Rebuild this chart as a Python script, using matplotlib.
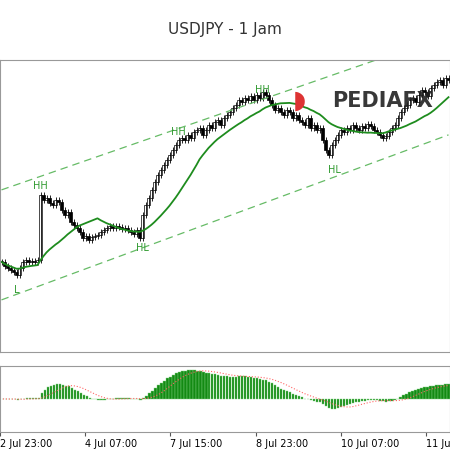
import numpy as np
import pandas as pd
import matplotlib
matplotlib.use("Agg")
import matplotlib.pyplot as plt

# close prices per hourly bar
closes = [158.88, 158.84, 158.82, 158.80, 158.78, 158.75, 158.82,
          158.88, 158.90, 158.88, 158.89, 158.88, 158.90,
          159.55,
          159.50, 159.52, 159.47, 159.45, 159.50, 159.48,
          159.40, 159.35, 159.38, 159.28, 159.25, 159.22, 159.18,
          159.12, 159.14, 159.10, 159.13, 159.14, 159.15, 159.18,
          159.20, 159.22, 159.24, 159.22, 159.24, 159.23, 159.21, 159.22, 159.20, 159.18,
          159.16, 159.20, 159.12,
          159.35, 159.45, 159.52, 159.60, 159.68, 159.75, 159.80,
          159.85, 159.90, 159.95, 160.00, 160.05, 160.10, 160.12,
          160.10, 160.15, 160.12, 160.18, 160.20, 160.22, 160.15, 160.20, 160.25, 160.22,
          160.28, 160.30, 160.25, 160.32, 160.35, 160.38,
          160.42, 160.45, 160.50, 160.48, 160.52, 160.50, 160.54, 160.50, 160.55, 160.52,
          160.58, 160.55, 160.50, 160.45, 160.40, 160.42, 160.38, 160.35, 160.40, 160.38,
          160.32, 160.35, 160.30, 160.28, 160.25, 160.32, 160.22, 160.25, 160.20, 160.22,
          160.10, 160.00, 159.95, 160.05,
          160.10, 160.15, 160.20, 160.18, 160.22, 160.20, 160.25, 160.22, 160.20, 160.24,
          160.22, 160.26, 160.24,
          160.20, 160.18, 160.15, 160.12, 160.14, 160.18,
          160.22, 160.25, 160.32, 160.38, 160.42, 160.45, 160.50, 160.52, 160.48, 160.55,
          160.60, 160.58, 160.54, 160.62, 160.65, 160.68, 160.70, 160.65, 160.72, 160.70]

tick_bars = [-1, 27.5, 56, 84.5, 113, 141.5]
tick_labels = ["2 Jul 23:00", "4 Jul 07:00", "7 Jul 15:00", "8 Jul 23:00", "10 Jul 07:00", "11 Jul"]

marks = ["L", "HH", "HL", "HH", "HH", "HL"]
mark_bars = [5, 13, 47, 59, 87, 111]
mark_prices = [158.60, 159.64, 159.02, 160.18, 160.60, 159.80]

upper_chan = [159.60, 161.15]   # price at first and last bar
lower_chan = [158.50, 160.15]

green = "#2f9a2f"
c = pd.Series(closes)
opens = c.shift(1).fillna(c.iloc[0])
ma = c.rolling(20, min_periods=1).mean()
macd = c.ewm(span=12).mean() - c.ewm(span=26).mean()
signal = macd.rolling(9, min_periods=1).mean()

fig = plt.figure(figsize=(4.5, 4.5), dpi=100)
fig.text(0.5, 0.935, "USDJPY - 1 Jam", ha="center", va="center", fontsize=11, color="#333333")

ax = fig.add_axes([0, 0.218, 1, 0.649])
x = np.arange(len(closes))
for i in x:
    o, cl = opens[i], closes[i]
    lo, hi = min(o, cl) - 0.03, max(o, cl) + 0.03
    ax.vlines(i, lo, hi, color="black", lw=0.6)
    ax.bar(i, max(abs(cl - o), 0.005), bottom=min(o, cl), width=0.7,
           color="white" if cl >= o else "black", edgecolor="black", lw=0.5)
ax.plot(x, ma, color="#1e8c1e", lw=1.3)
ax.plot([0, len(closes) - 1], upper_chan, color="#66bb66", lw=0.9, dashes=(6, 4))
ax.plot([0, len(closes) - 1], lower_chan, color="#66bb66", lw=0.9, dashes=(6, 4))
for t, b, p in zip(marks, mark_bars, mark_prices):
    ax.text(b, p, t, color=green, fontsize=7, ha="center", va="center")
ax.text(0.85, 0.86, "PEDIAFX", transform=ax.transAxes, fontsize=15, fontweight="bold",
        color="#222222", ha="center", va="center", alpha=0.9)
ax.text(0.665, 0.86, "\u25D7", transform=ax.transAxes, fontsize=18, color="#d33", ha="center", va="center")
ax.set_xlim(-0.5, len(closes) - 0.5)
ax.set_ylim(157.98, 160.90)
ax.set_xticks([]); ax.set_yticks([])
for s in ax.spines.values():
    s.set_color("#999999")

ax2 = fig.add_axes([0, 0.04, 1, 0.147])
ax2.bar(x, macd, width=0.8, color="#138a13", edgecolor="#7fd07f", lw=0.3)
ax2.plot(x, signal, color="#ff6666", lw=0.8, ls=":")
ax2.set_xlim(-0.5, len(closes) - 0.5)
lim = macd.abs().max() * 1.15
ax2.set_ylim(-lim, lim)
ax2.set_yticks([])
ax2.set_xticks(tick_bars)
ax2.set_xticklabels(tick_labels, fontsize=7, ha="left")
ax2.tick_params(axis="x", length=3, pad=2, color="#555555")
for s in ax2.spines.values():
    s.set_color("#999999")

fig.savefig("out.png", dpi=100)
